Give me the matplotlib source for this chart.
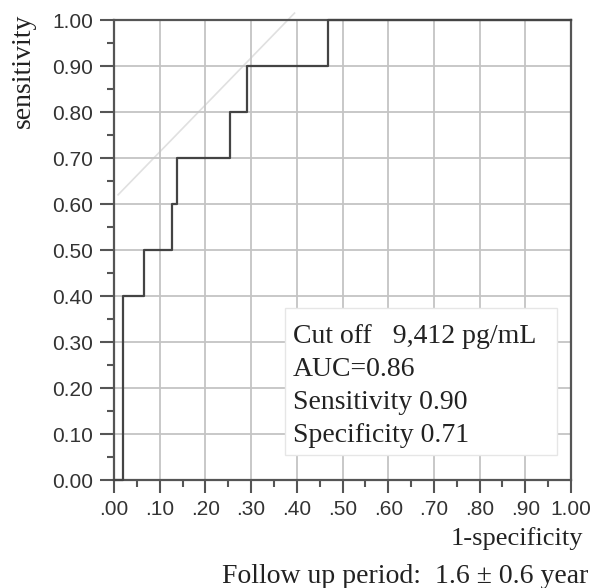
import matplotlib
matplotlib.use("Agg")
import matplotlib.pyplot as plt
from matplotlib.ticker import MultipleLocator
from matplotlib.patches import Rectangle

# ROC step curve (1-specificity, sensitivity)
fpr = [0.00, 0.02, 0.02, 0.065, 0.065, 0.128, 0.128, 0.137, 0.137, 0.254, 0.254, 0.29, 0.29, 0.469, 0.469, 1.00]
tpr = [0.00, 0.00, 0.40, 0.40, 0.50, 0.50, 0.60, 0.60, 0.70, 0.70, 0.80, 0.80, 0.90, 0.90, 1.00, 1.00]
# faint reference line as drawn
ref_x = [0.009, 0.395]
ref_y = [0.62, 1.015]

x_ticks = [0.0, 0.1, 0.2, 0.3, 0.4, 0.5, 0.6, 0.7, 0.8, 0.9, 1.0]
x_labels = [".00", ".10", ".20", ".30", ".40", ".50", ".60", ".70", ".80", ".90", "1.00"]
y_ticks = [0.0, 0.1, 0.2, 0.3, 0.4, 0.5, 0.6, 0.7, 0.8, 0.9, 1.0]
y_labels = ["0.00", "0.10", "0.20", "0.30", "0.40", "0.50", "0.60", "0.70", "0.80", "0.90", "1.00"]

info_lines = ["Cut off   9,412 pg/mL", "AUC=0.86", "Sensitivity 0.90", "Specificity 0.71"]

W, H = 590, 588
fig = plt.figure(figsize=(W / 100, H / 100), dpi=100)
ax_l, ax_r, ax_t, ax_b = 114, 571, 20, 480
ax = fig.add_axes([ax_l / W, (H - ax_b) / H, (ax_r - ax_l) / W, (ax_b - ax_t) / H])

spine_c = "#555555"
grid_c = "#c4c4c4"
text_c = "#222222"

ax.set_xlim(0, 1)
ax.set_ylim(0, 1)
ax.set_xticks(x_ticks)
ax.set_xticklabels(x_labels)
ax.set_yticks(y_ticks)
ax.set_yticklabels(y_labels)
ax.xaxis.set_minor_locator(MultipleLocator(0.05))
ax.yaxis.set_minor_locator(MultipleLocator(0.05))
ax.grid(True, which="major", color=grid_c, linewidth=1.3, zorder=0)

for s in ax.spines.values():
    s.set_color(spine_c)
    s.set_linewidth(1.6)

ax.tick_params(axis="both", which="major", direction="out", color=spine_c, width=1.5,
               labelcolor="#333333")
ax.tick_params(axis="y", which="major", length=10, pad=5)
ax.tick_params(axis="x", which="major", length=9.5, pad=5)
ax.tick_params(axis="both", which="minor", direction="out", color=spine_c, width=1.5, length=5)
for lab in ax.get_xticklabels() + ax.get_yticklabels():
    lab.set_fontfamily("Liberation Sans")
    lab.set_fontsize(15)

ax.plot(ref_x, ref_y, color="#e0e0e0", linewidth=1.2, zorder=1, clip_on=False)
ax.plot(fpr, tpr, color="#444444", linewidth=1.6, zorder=3, clip_on=False)

def px_x(x):
    return (x - ax_l) / (ax_r - ax_l)

def px_y(y):
    return (ax_b - y) / (ax_b - ax_t)

# info box
bx0, bx1, by0, by1 = 285, 557, 308, 455
ax.add_patch(Rectangle((px_x(bx0), px_y(by1)), px_x(bx1) - px_x(bx0), px_y(by0) - px_y(by1),
                       transform=ax.transAxes, facecolor="white", edgecolor="#e6e6e6",
                       linewidth=1, zorder=4))
baselines = [343, 376, 409, 442]
for line, b in zip(info_lines, baselines):
    ax.text(px_x(293), px_y(b), line, transform=ax.transAxes, family="Liberation Serif",
            size=20, color=text_c, va="baseline", ha="left", zorder=5)

fig.text(23 / W, 1 - 71 / H, "sensitivity", rotation=90, family="Liberation Serif",
         size=20, color=text_c, ha="center", va="center")
fig.text(583 / W, 1 - 545 / H, "1-specificity", family="Liberation Serif",
         size=19, color=text_c, ha="right", va="baseline")
fig.text(588 / W, 1 - 583 / H, "Follow up period:  1.6 \u00b1 0.6 year",
         family="Liberation Serif", size=20, color=text_c, ha="right", va="baseline")

fig.savefig("out.png", dpi=100)
